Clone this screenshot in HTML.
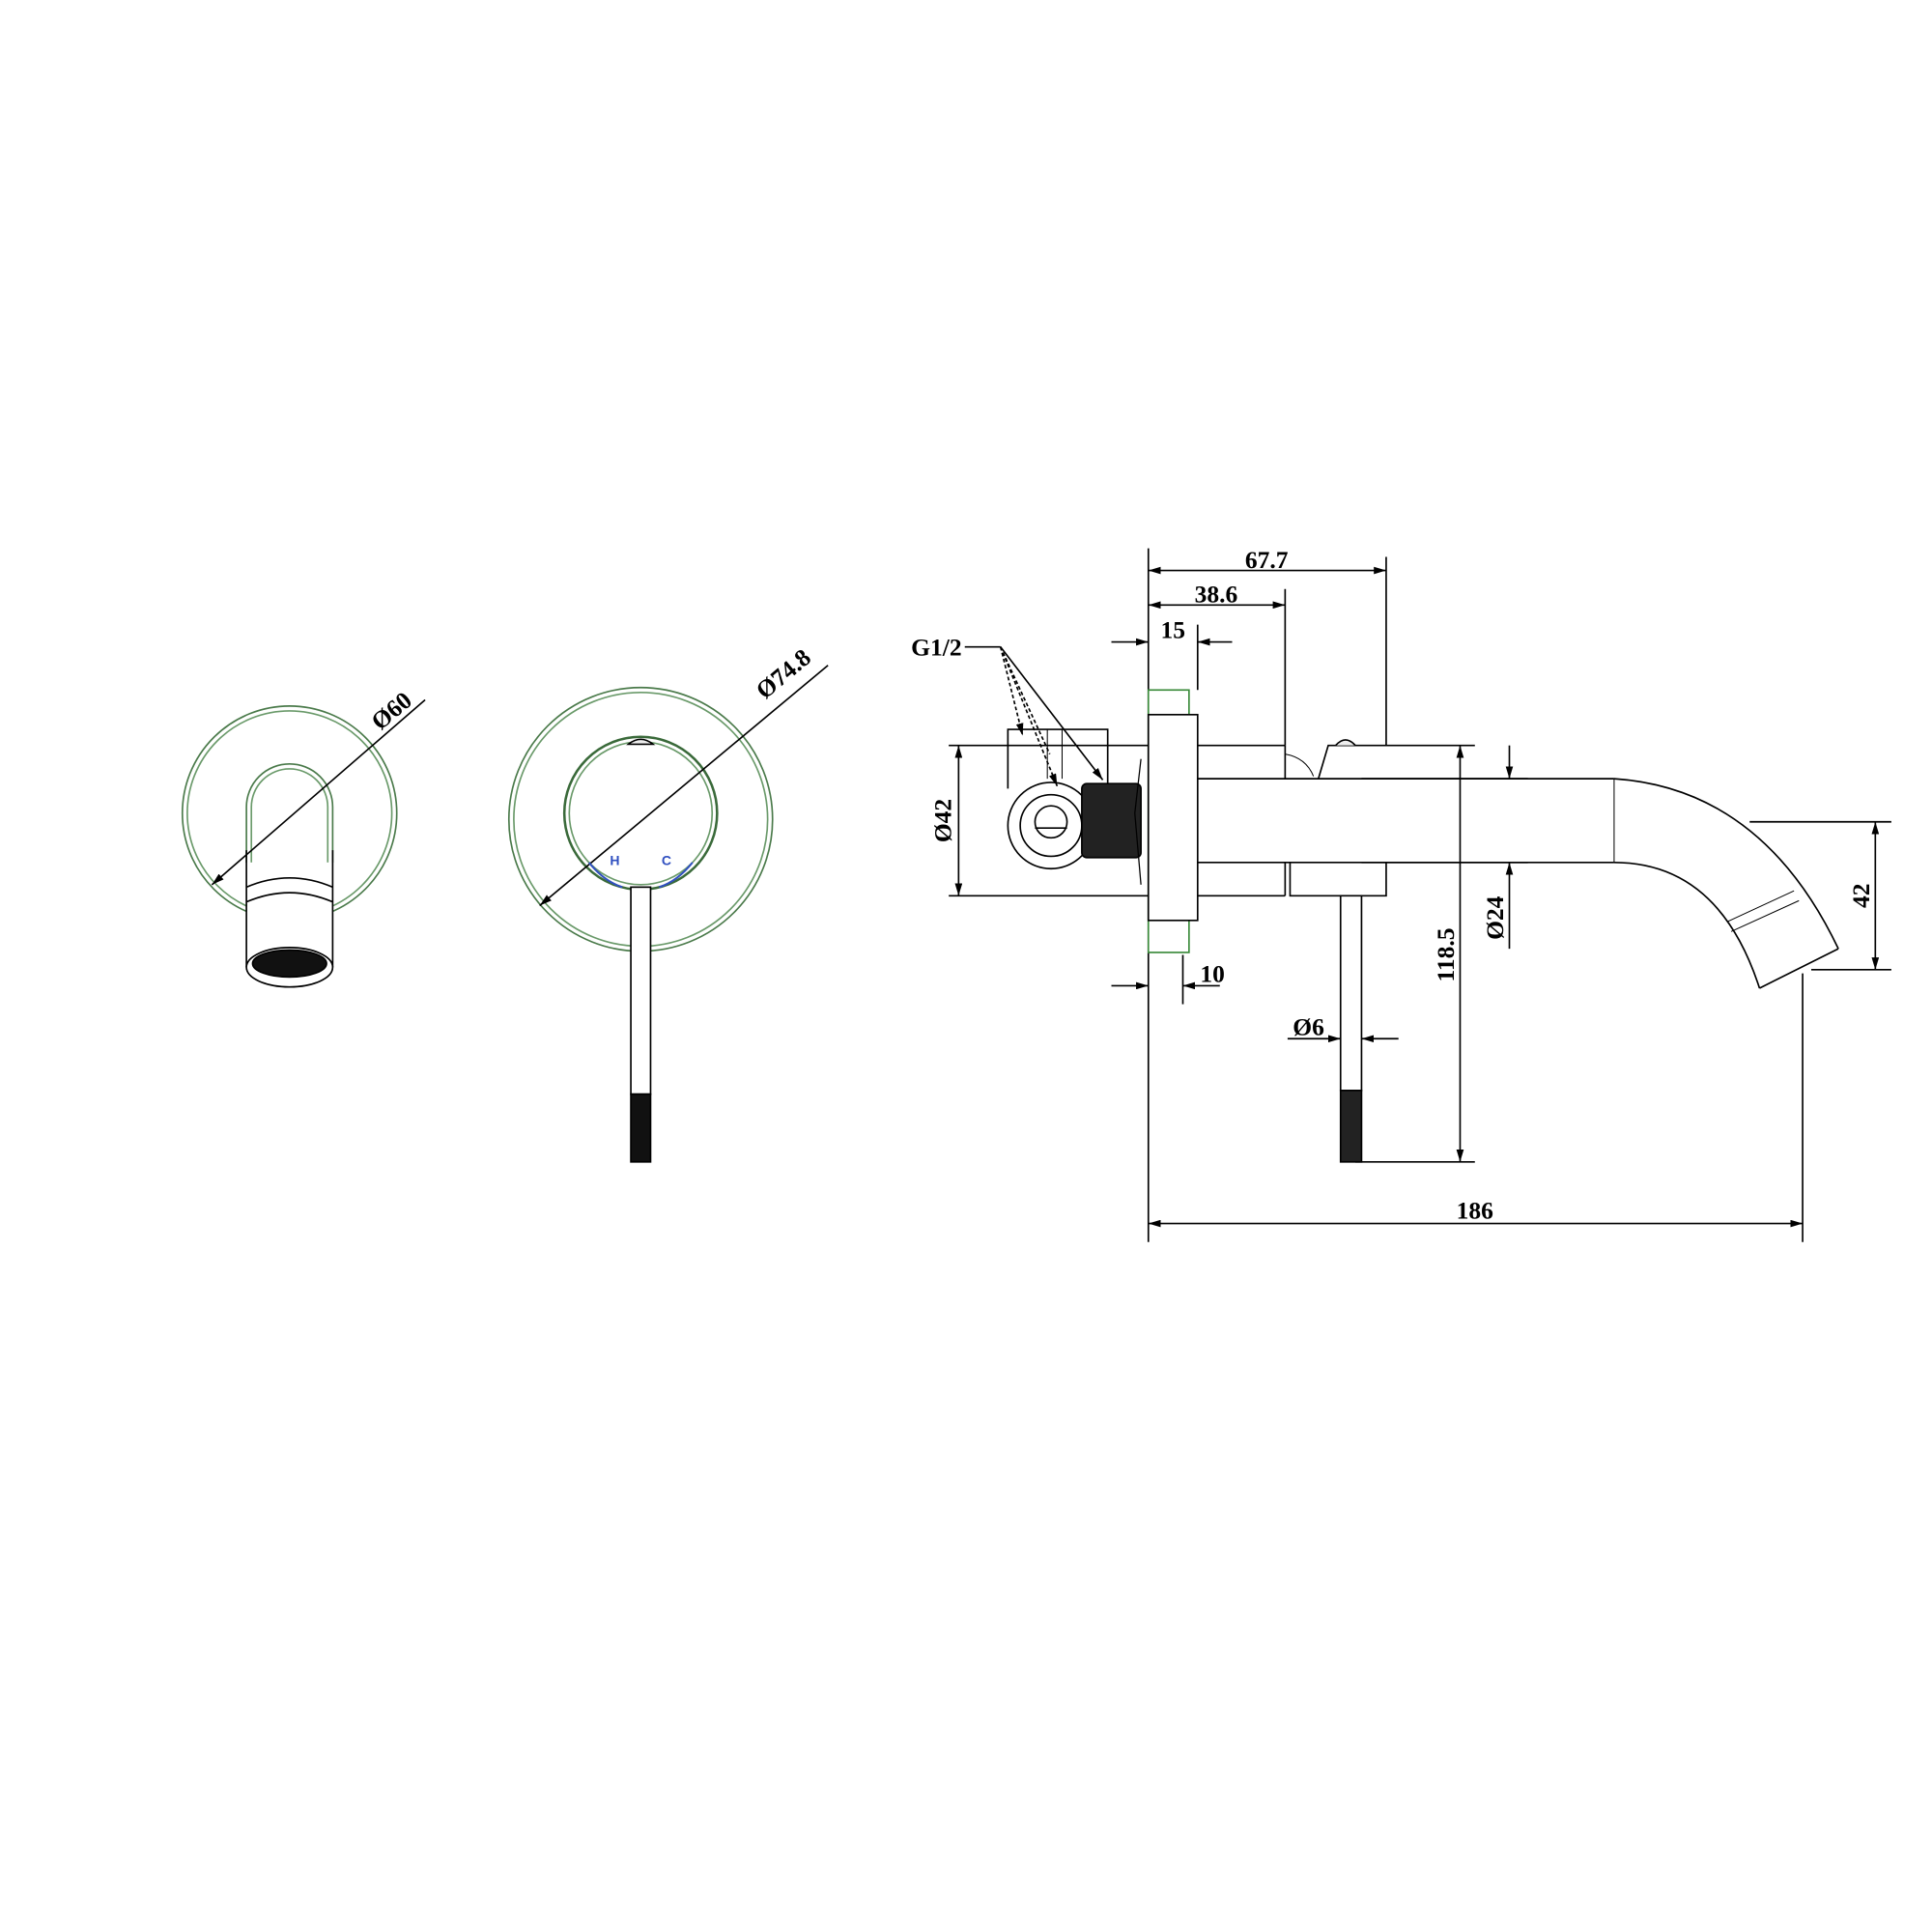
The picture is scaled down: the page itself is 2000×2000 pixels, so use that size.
<!DOCTYPE html>
<html><head><style>html,body{margin:0;padding:0;background:#fff}svg{display:block}</style></head>
<body>
<svg width="2000" height="2000" viewBox="0 0 1568 1568" xmlns="http://www.w3.org/2000/svg" font-family="Liberation Serif, serif" font-weight="bold">
<defs>
<marker id="a" viewBox="0 0 10 6" refX="10" refY="3" markerWidth="10" markerHeight="6" orient="auto-start-reverse" markerUnits="userSpaceOnUse"><path d="M0,0 L10,3 L0,6 z" fill="#000"/></marker>
</defs>
<g fill="none" stroke="#000" stroke-width="1.3">
<!-- LEFT VIEW -->
<circle cx="235" cy="660" r="87" stroke="#4a7a4a"/>
<circle cx="235" cy="660" r="83" stroke="#6a9a6a"/>
<path d="M200,700 V655 A35,35 0 0 1 270,655 V700" stroke="#4a7a4a" fill="#fff"/>
<path d="M204,700 V655 A31,31 0 0 1 266,655 V700" stroke="#6a9a6a"/>
<rect x="200" y="700" width="70" height="85" fill="#fff" stroke="none"/>
<line x1="200" y1="690" x2="200" y2="785"/><line x1="270" y1="690" x2="270" y2="785"/>
<path d="M200,720 Q235,705 270,720"/><path d="M200,732 Q235,717 270,732"/>
<ellipse cx="235" cy="785" rx="35" ry="16" fill="#fff"/>
<ellipse cx="235" cy="782" rx="30" ry="11" fill="#111"/>
<line x1="172" y1="718" x2="345" y2="568" marker-start="url(#a)"/>
<!-- MIDDLE VIEW -->
<circle cx="520" cy="665" r="107" stroke="#4a7a4a"/>
<circle cx="520" cy="665" r="103" stroke="#6a9a6a"/>
<circle cx="520" cy="660" r="62" stroke="#3a6a3a" stroke-width="2"/>
<circle cx="520" cy="660" r="58" stroke="#6a9a6a"/>
<path d="M510,604 Q520,596 530,604 z" fill="#eee"/>
<rect x="512" y="720" width="16" height="168" fill="#fff"/>
<rect x="512" y="888" width="16" height="55" fill="#111"/>
<line x1="438" y1="735" x2="672" y2="540" marker-start="url(#a)"/>
<path d="M478,700 Q490,715 505,720" stroke="#3050c0" stroke-width="1.6"/>
<path d="M535,720 Q550,715 562,700" stroke="#3050c0" stroke-width="1.6"/>
<!-- RIGHT VIEW extension lines -->
<line x1="932" y1="445" x2="932" y2="1008"/>
<line x1="1125" y1="452" x2="1125" y2="605"/>
<line x1="1043" y1="478" x2="1043" y2="605"/>
<line x1="972" y1="507" x2="972" y2="560"/>
<line x1="960" y1="775" x2="960" y2="815"/>
<line x1="1463" y1="790" x2="1463" y2="1008"/>
<!-- dims -->
<line x1="932" y1="463" x2="1125" y2="463" marker-start="url(#a)" marker-end="url(#a)"/>
<line x1="932" y1="491" x2="1043" y2="491" marker-start="url(#a)" marker-end="url(#a)"/>
<line x1="902" y1="521" x2="932" y2="521" marker-end="url(#a)"/>
<line x1="1000" y1="521" x2="972" y2="521" marker-end="url(#a)"/>
<line x1="902" y1="800" x2="932" y2="800" marker-end="url(#a)"/>
<line x1="990" y1="800" x2="960" y2="800" marker-end="url(#a)"/>
<line x1="932" y1="993" x2="1463" y2="993" marker-start="url(#a)" marker-end="url(#a)"/>
<line x1="778" y1="605" x2="778" y2="727" marker-start="url(#a)" marker-end="url(#a)"/>
<line x1="1185" y1="605" x2="1185" y2="943" marker-start="url(#a)" marker-end="url(#a)"/>
<line x1="1225" y1="605" x2="1225" y2="632" marker-end="url(#a)"/>
<line x1="1225" y1="770" x2="1225" y2="700" marker-end="url(#a)"/>
<line x1="1522" y1="667" x2="1522" y2="787" marker-start="url(#a)" marker-end="url(#a)"/>
<line x1="1420" y1="667" x2="1535" y2="667"/>
<line x1="1470" y1="787" x2="1535" y2="787"/>
<line x1="1100" y1="943" x2="1197" y2="943"/>
<line x1="1045" y1="843" x2="1088" y2="843" marker-end="url(#a)"/>
<line x1="1135" y1="843" x2="1105" y2="843" marker-end="url(#a)"/>
<line x1="1105" y1="632" x2="1240" y2="632"/>
<line x1="1105" y1="700" x2="1240" y2="700"/>
<!-- body -->
<line x1="770" y1="605" x2="932" y2="605"/>
<line x1="770" y1="727" x2="932" y2="727"/>
<path d="M818,640 V592 H899 V640"/>
<line x1="850" y1="592" x2="850" y2="632" stroke-width="0.8"/>
<line x1="862" y1="592" x2="862" y2="632" stroke-width="0.8"/>
<circle cx="853" cy="670" r="35" fill="#fff"/>
<circle cx="853" cy="670" r="25"/>
<circle cx="853" cy="667" r="13"/>
<line x1="840" y1="672" x2="866" y2="672"/>
<rect x="878" y="636" width="48" height="60" rx="4" fill="#222"/>
<path d="M926,616 L921,660 L926,718" stroke-width="1"/>
<!-- plate -->
<rect x="932" y="560" width="33" height="213" stroke="#3a8a3a" fill="#fff"/>
<rect x="932" y="580" width="40" height="167" fill="#fff"/>
<!-- right parts -->
<line x1="972" y1="605" x2="1043" y2="605"/>
<line x1="972" y1="727" x2="1043" y2="727"/>
<line x1="1043" y1="605" x2="1043" y2="632"/>
<line x1="1043" y1="700" x2="1043" y2="727"/>
<path d="M1070,632 L1078,605 H1197"/>
<path d="M1043,612 Q1060,615 1066,630" stroke-width="0.8"/>
<path d="M1084,605 Q1092,596 1100,605" fill="#eee"/>
<path d="M1047,700 V727 H1125 V700"/>
<!-- pipe/spout -->
<line x1="972" y1="632" x2="1310" y2="632"/>
<line x1="972" y1="700" x2="1310" y2="700"/>
<line x1="1310" y1="632" x2="1310" y2="700" stroke-width="0.8"/>
<path d="M1310,632 Q1430,640 1492,770"/>
<path d="M1310,700 Q1395,700 1428,802"/>
<line x1="1492" y1="770" x2="1428" y2="802"/>
<line x1="1402" y1="748" x2="1456" y2="723" stroke-width="0.8"/>
<line x1="1405" y1="756" x2="1460" y2="731" stroke-width="0.8"/>
<!-- lever -->
<rect x="1088" y="727" width="17" height="158" fill="#fff"/>
<rect x="1088" y="885" width="17" height="58" fill="#222"/>
<!-- G1/2 leader -->
<line x1="783" y1="525" x2="812" y2="525"/>
<line x1="812" y1="525" x2="830" y2="597" stroke-dasharray="3,2" marker-end="url(#a)"/>
<line x1="812" y1="525" x2="858" y2="638" stroke-dasharray="3,2" marker-end="url(#a)"/>
<line x1="812" y1="525" x2="895" y2="633" marker-end="url(#a)"/>
<line x1="812" y1="525" x2="852" y2="612" stroke-dasharray="3,2"/>
</g>
<g font-size="20" fill="#000">
<text x="1028" y="461" text-anchor="middle">67.7</text>
<text x="987" y="489" text-anchor="middle">38.6</text>
<text x="952" y="518" text-anchor="middle">15</text>
<text x="984" y="797" text-anchor="middle">10</text>
<text x="1197" y="989" text-anchor="middle">186</text>
<text x="760" y="532" text-anchor="middle">G1/2</text>
<text x="1062" y="840" text-anchor="middle">Ø6</text>
<text transform="translate(772,666) rotate(-90)" text-anchor="middle">Ø42</text>
<text transform="translate(1180,775) rotate(-90)" text-anchor="middle">118.5</text>
<text transform="translate(1220,745) rotate(-90)" text-anchor="middle">Ø24</text>
<text transform="translate(1517,727) rotate(-90)" text-anchor="middle">42</text>
<text transform="translate(322,582) rotate(-40)" text-anchor="middle">Ø60</text>
<text transform="translate(640,552) rotate(-40)" text-anchor="middle">Ø74.8</text>
<text x="495" y="702" font-size="11" fill="#3050c0" font-family="Liberation Sans, sans-serif">H</text>
<text x="537" y="702" font-size="11" fill="#3050c0" font-family="Liberation Sans, sans-serif">C</text>
</g>
</svg>
</body></html>
